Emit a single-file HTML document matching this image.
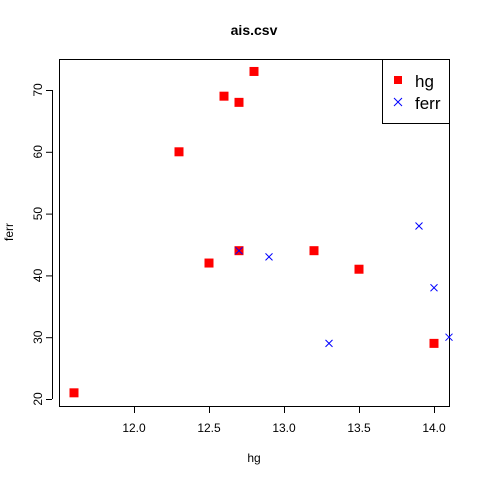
<!DOCTYPE html>
<html><head><meta charset="utf-8"><style>
body{margin:0;background:#fff;}
svg text{font-family:"Liberation Sans",Arial,sans-serif;fill:#000;}
</style></head><body>
<svg id="chart" width="480" height="480" xmlns="http://www.w3.org/2000/svg">
<rect width="480" height="480" fill="#fff"/>
<text x="254" y="35" text-anchor="middle" font-size="14" font-weight="bold">ais.csv</text>
<text x="254" y="462" text-anchor="middle" font-size="12">hg</text>
<text transform="translate(13,232) rotate(-90)" text-anchor="middle" font-size="12">ferr</text>
<rect x="59.5" y="59.5" width="390" height="347" fill="none" stroke="#000"/>
<g id="xaxis"></g>
<g id="yaxis"></g>
<g id="marks"></g>
<g>
<rect x="382.5" y="59.5" width="67" height="64" fill="#fff" stroke="#000"/>
<rect x="394" y="76" width="8" height="8" fill="#f00"/>
<text x="415" y="87" font-size="17">hg</text>
<path d="M394,98 L402,106 M402,98 L394,106" stroke="#00f" stroke-width="1"/>
<text x="415" y="109" font-size="17">ferr</text>
</g>
</svg>
<script>
const hgX=[11.6,12.3,12.5,12.6,12.7,12.7,12.8,13.2,13.5,14.0];
const hgY=[21,60,42,69,68,44,73,44,41,29];
const ferrX=[12.7,12.9,13.3,13.9,14.0,14.1];
const ferrY=[44,43,29,48,38,30];
const xTicks=[12.0,12.5,13.0,13.5,14.0];
const yTicks=[20,30,40,50,60,70];
const NS="http://www.w3.org/2000/svg";
function sx(v){return 134+(v-12)*150;}
function sy(v){return 399-(v-20)*6.18;}
function mk(tag,attrs,parent){const e=document.createElementNS(NS,tag);for(const k in attrs)e.setAttribute(k,attrs[k]);parent.appendChild(e);return e;}
const xa=document.getElementById('xaxis'),ya=document.getElementById('yaxis'),mg=document.getElementById('marks');
mk('line',{x1:sx(xTicks[0]),x2:sx(xTicks[xTicks.length-1]),y1:406.5,y2:406.5,stroke:'#000'},xa);
xTicks.forEach(t=>{
 const l=mk('line',{x1:sx(t)+.5,x2:sx(t)+.5,y1:406,y2:413,stroke:'#000'},xa);
 
 
 const tx=mk('text',{x:sx(t),y:432,'text-anchor':'middle','font-size':'12'},xa);tx.textContent=t.toFixed(1);
 
 
});
mk('line',{x1:52.5,x2:52.5,y1:sy(yTicks[0]),y2:sy(yTicks[yTicks.length-1]),stroke:'#000'},ya);
yTicks.forEach(t=>{
 const l=mk('line',{x1:46,x2:52,y1:sy(t)+.5,y2:sy(t)+.5,stroke:'#000'},ya);
 
 
 const tx=mk('text',{transform:`translate(42,${sy(t)}) rotate(-90)`,'text-anchor':'middle','font-size':'12'},ya);tx.textContent=t;
 
 
});
hgX.forEach((v,i)=>{
 const r=mk('rect',{x:sx(v)-4.5,y:sy(hgY[i])-4.5,width:9,height:9,fill:'#f00'},mg);
 
 
});
ferrX.forEach((v,i)=>{
 const x=sx(v),y=sy(ferrY[i]);
 const p=mk('path',{d:`M${x-3.5},${y-3.5}L${x+3.5},${y+3.5}M${x+3.5},${y-3.5}L${x-3.5},${y+3.5}`,stroke:'#00f','stroke-width':1},mg);
 
 
});
</script>
</body></html>
